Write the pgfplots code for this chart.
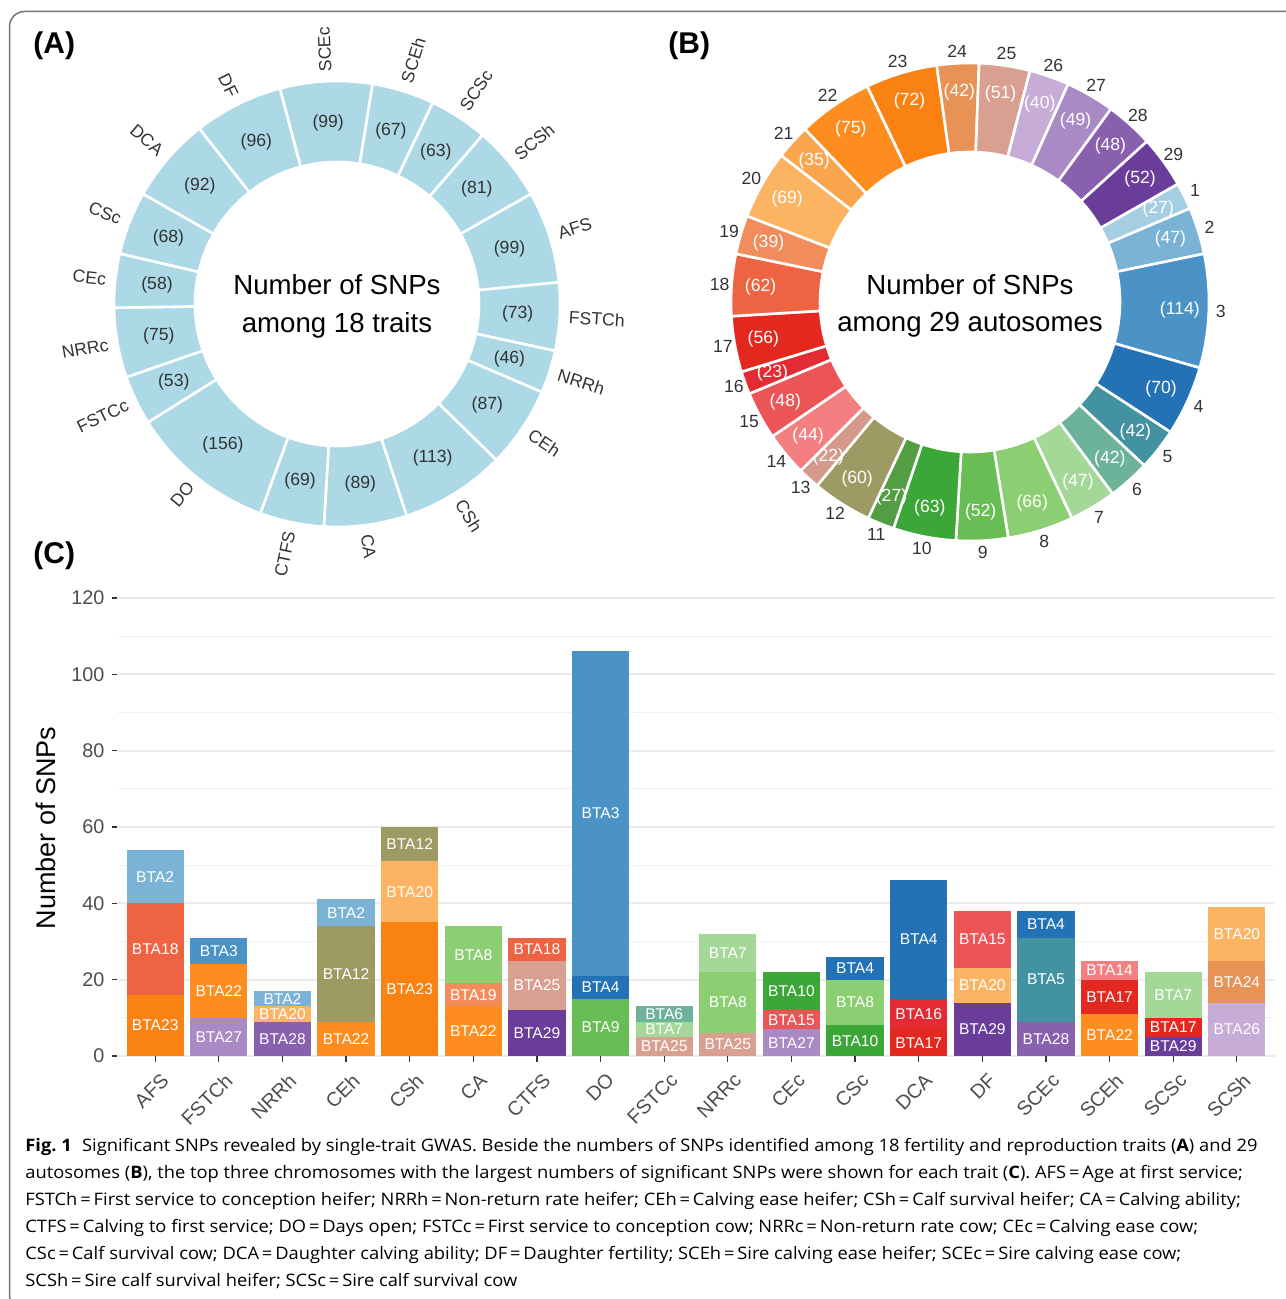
\documentclass[border=0pt]{standalone}
\usepackage{pgfplots}
\pgfplotsset{compat=1.18}
\usepackage{fontspec}
\setmainfont{Liberation Sans}
\newfontfamily\capfont[FakeStretch=1.065]{Open Sans}
\newcommand\fS{\fontsize{8.8}{10}\selectfont}
\newcommand\fB{\fontsize{7.8}{9}\selectfont}
\newcommand\fT{\fontsize{9.9}{11}\selectfont}
\newcommand\fC{\fontsize{13.8}{16}\selectfont}
\newcommand\fY{\fontsize{13.5}{16}\selectfont}
\newcommand\fP{\fontsize{15}{18}\selectfont\bfseries}
\newcommand\fCap{\capfont\fontsize{8.6}{10}\selectfont}
\definecolor{lb}{HTML}{ADD8E6}
\definecolor{txt}{HTML}{333333}
\definecolor{tickc}{HTML}{4D4D4D}
\definecolor{gridc}{HTML}{EBEBEB}
\definecolor{c1}{HTML}{A6CEE3}
\definecolor{c2}{HTML}{7BB3D7}
\definecolor{c3}{HTML}{4B93C6}
\definecolor{c4}{HTML}{2272B5}
\definecolor{c5}{HTML}{4392A2}
\definecolor{c6}{HTML}{6DB39A}
\definecolor{c7}{HTML}{A4D899}
\definecolor{c8}{HTML}{8CCF73}
\definecolor{c9}{HTML}{68BD55}
\definecolor{c10}{HTML}{3CA638}
\definecolor{c11}{HTML}{539D42}
\definecolor{c12}{HTML}{9D9B63}
\definecolor{c13}{HTML}{D69A8B}
\definecolor{c14}{HTML}{F37F80}
\definecolor{c15}{HTML}{EC5558}
\definecolor{c16}{HTML}{E32B33}
\definecolor{c17}{HTML}{E3291F}
\definecolor{c18}{HTML}{EE6442}
\definecolor{c19}{HTML}{F38C5D}
\definecolor{c20}{HTML}{FDB462}
\definecolor{c21}{HTML}{FCA54F}
\definecolor{c22}{HTML}{FC8D1E}
\definecolor{c23}{HTML}{F98213}
\definecolor{c24}{HTML}{E89256}
\definecolor{c25}{HTML}{D9A092}
\definecolor{c26}{HTML}{C6ACD6}
\definecolor{c27}{HTML}{A98AC5}
\definecolor{c28}{HTML}{8960AD}
\definecolor{c29}{HTML}{6A3D9A}
\begin{document}
\begin{tikzpicture}[x=0.5pt,y=-0.5pt]
\useasboundingbox (0,0) rectangle (1285,1299);
\draw[color=black!55, line width=0.75pt, rounded corners=7.5pt] (9.5,11.5) rectangle (1320,1310);

% ---------------- Panel A ----------------
\begin{axis}[at={(168.5pt,-152pt)}, anchor=center, hide axis, scale only axis, clip=false,
  width=300pt, height=300pt, xmin=-300, xmax=300, ymin=-300, ymax=300]
\gdef\cum{0}
\foreach \v/\lab in {99/AFS,73/FSTCh,46/NRRh,87/CEh,113/CSh,89/CA,69/CTFS,156/DO,53/FSTCc,75/NRRc,58/CEc,68/CSc,92/DCA,96/DF,99/SCEc,67/SCEh,63/SCSc,81/SCSh}{
  \pgfmathsetmacro\aS{29.6-\cum/1484*360}
  \pgfmathsetmacro\aE{29.6-(\cum+\v)/1484*360}
  \pgfmathsetmacro\aM{(\aS+\aE)/2}
  \pgfmathsetmacro\rot{\aM < -265 ? \aM+360 : (\aM < -90 ? \aM+180 : \aM)}
  \pgfmathtruncatemacro\flip{((\aM < -90) && (\aM > -265)) ? 1 : 0}
  \ifnum\flip=1 \def\anc{east}\else\def\anc{west}\fi
  \edef\temp{\noexpand\fill[lb, draw=white, line width=1.3pt] (axis cs:{223*cos(\aS)},{223*sin(\aS)}) arc[start angle=\aS, end angle=\aE, radius=111.5pt] -- (axis cs:{142*cos(\aE)},{142*sin(\aE)}) arc[start angle=\aE, end angle=\aS, radius=71pt] -- cycle;
  \noexpand\node[font=\noexpand\fS, text=txt] at (axis cs:{181*cos(\aM)},{181*sin(\aM)}) {(\v)};
  \noexpand\node[font=\noexpand\fS, text=txt, rotate=\rot, anchor=\anc, inner sep=0pt] at (axis cs:{232*cos(\aM)},{232*sin(\aM)}) {\lab};}
  \temp
  \pgfmathsetmacro\nc{\cum+\v}\xdef\cum{\nc}
}
\end{axis}

% ---------------- Panel B ----------------
\begin{axis}[at={(485pt,-151pt)}, anchor=center, hide axis, scale only axis, clip=false,
  width=300pt, height=300pt, xmin=-300, xmax=300, ymin=-300, ymax=300]
\gdef\cum{0}
\foreach \v/\lab in {27/1,47/2,114/3,70/4,42/5,42/6,47/7,66/8,52/9,63/10,27/11,60/12,22/13,44/14,48/15,23/16,56/17,62/18,39/19,69/20,35/21,75/22,72/23,42/24,51/25,40/26,49/27,48/28,52/29}{
  \pgfmathsetmacro\aS{29.6-\cum/1484*360}
  \pgfmathsetmacro\aE{29.6-(\cum+\v)/1484*360}
  \pgfmathsetmacro\aM{(\aS+\aE)/2}
  \edef\temp{\noexpand\fill[c\lab, draw=white, line width=1.3pt] (axis cs:{239*cos(\aS)},{239*sin(\aS)}) arc[start angle=\aS, end angle=\aE, radius=119.5pt] -- (axis cs:{150*cos(\aE)},{150*sin(\aE)}) arc[start angle=\aE, end angle=\aS, radius=75pt] -- cycle;
  \noexpand\node[font=\noexpand\fS, text=white] at (axis cs:{210*cos(\aM)},{210*sin(\aM)}) {(\v)};
  \noexpand\node[font=\noexpand\fS, text=txt] at (axis cs:{251*cos(\aM)},{251*sin(\aM)}) {\lab};}
  \temp
  \pgfmathsetmacro\nc{\cum+\v}\xdef\cum{\nc}
}
\end{axis}

% ---------------- Panel C ----------------
\begin{axis}[at={(58.5pt,-528pt)}, anchor=south west, scale only axis,
  width=579pt, height=230pt,
  xmin=-0.6, xmax=17.6, ymin=0, ymax=120.5,
  axis line style={draw=none},
  xtick={0,...,17},
  xticklabels={AFS,FSTCh,NRRh,CEh,CSh,CA,CTFS,DO,FSTCc,NRRc,CEc,CSc,DCA,DF,SCEc,SCEh,SCSc,SCSh},
  ytick={0,20,...,120},
  minor ytick={10,30,...,110},
  ymajorgrids, yminorgrids,
  major grid style={draw=gridc, line width=0.9pt},
  minor grid style={draw=gridc!70, line width=0.45pt},
  tick align=outside, major tick length=2.75pt, minor tick length=0pt,
  major tick style={draw=black!80, line width=0.6pt},
  tick pos=left,
  xticklabel style={font=\fT, text=tickc, xshift=2.5pt, yshift=-5pt, rotate=45, anchor=north east, inner sep=0pt},
  yticklabel style={font=\fT, text=tickc},
  /pgf/number format/assume math mode=true,
  clip=false]
\foreach \x/\ha/\hb/\hc/\ca/\cb/\cc in {
 0/16/24/14/23/18/2, 1/10/14/7/27/22/3, 2/9/4/4/28/20/2, 3/9/25/7/22/12/2,
 4/35/16/9/23/20/12, 5/13/6/15/22/19/8, 6/12/13/6/29/25/18, 7/15/6/85/9/4/3,
 8/5/4/4/25/7/6, 9/6/16/10/25/8/7, 10/7/5/10/27/15/10, 11/8/12/6/10/8/4,
 12/7/8/31/17/16/4, 13/14/9/15/29/20/15, 14/9/22/7/28/5/4, 15/11/9/5/22/17/14,
 16/5/5/12/29/17/7, 17/14/11/14/26/24/20}{
  \pgfmathsetmacro\ya{\ha}
  \pgfmathsetmacro\yb{\ha+\hb}
  \pgfmathsetmacro\yc{\ha+\hb+\hc}
  \pgfmathsetmacro\ma{\ha/2}
  \pgfmathsetmacro\mb{\ha+\hb/2}
  \pgfmathsetmacro\mc{\ha+\hb+\hc/2}
  \edef\temp{\noexpand\addplot[ybar, bar width=0.9, bar shift=0, draw=none, fill=c\cc] coordinates {(\x,\yc)};
  \noexpand\addplot[ybar, bar width=0.9, bar shift=0, draw=none, fill=c\cb] coordinates {(\x,\yb)};
  \noexpand\addplot[ybar, bar width=0.9, bar shift=0, draw=none, fill=c\ca] coordinates {(\x,\ya)};
  \noexpand\node[font=\noexpand\fB, text=white] at (axis cs:\x,\ma) {BTA\ca};
  \noexpand\node[font=\noexpand\fB, text=white] at (axis cs:\x,\mb) {BTA\cb};
  \noexpand\node[font=\noexpand\fB, text=white] at (axis cs:\x,\mc) {BTA\cc};}
  \temp
}
\end{axis}

% ---------------- texts ----------------
\node[font=\fP, anchor=west, inner sep=0pt] at (33,46) {(A)};
\node[font=\fP, anchor=west, inner sep=0pt] at (668,46) {(B)};
\node[font=\fP, anchor=west, inner sep=0pt] at (33,556) {(C)};
\node[font=\fC] at (337,285) {Number of SNPs};
\node[font=\fC] at (337,325) {among 18 traits};
\node[font=\fC] at (970,285) {Number of SNPs};
\node[font=\fC] at (970,325) {among 29 autosomes};
\node[font=\fY, rotate=90] at (46,828) {Number of SNPs};

\node[font=\fCap, anchor=base west, inner sep=0pt] at (25,1151) {\textbf{Fig.~1}\hspace{0.6em}Significant SNPs revealed by single-trait GWAS. Beside the numbers of SNPs identified among 18 fertility and reproduction traits (\textbf{A}) and 29};
\node[font=\fCap, anchor=base west, inner sep=0pt] at (25,1178) {autosomes (\textbf{B}), the top three chromosomes with the largest numbers of significant SNPs were shown for each trait (\textbf{C}). AFS\,=\,Age at first service;};
\node[font=\fCap, anchor=base west, inner sep=0pt] at (25,1205) {FSTCh\,=\,First service to conception heifer; NRRh\,=\,Non-return rate heifer; CEh\,=\,Calving ease heifer; CSh\,=\,Calf survival heifer; CA\,=\,Calving ability;};
\node[font=\fCap, anchor=base west, inner sep=0pt] at (25,1232) {CTFS\,=\,Calving to first service; DO\,=\,Days open; FSTCc\,=\,First service to conception cow; NRRc\,=\,Non-return rate cow; CEc\,=\,Calving ease cow;};
\node[font=\fCap, anchor=base west, inner sep=0pt] at (25,1259) {CSc\,=\,Calf survival cow; DCA\,=\,Daughter calving ability; DF\,=\,Daughter fertility; SCEh\,=\,Sire calving ease heifer; SCEc\,=\,Sire calving ease cow;};
\node[font=\fCap, anchor=base west, inner sep=0pt] at (25,1286) {SCSh\,=\,Sire calf survival heifer; SCSc\,=\,Sire calf survival cow};
\end{tikzpicture}
\end{document}
